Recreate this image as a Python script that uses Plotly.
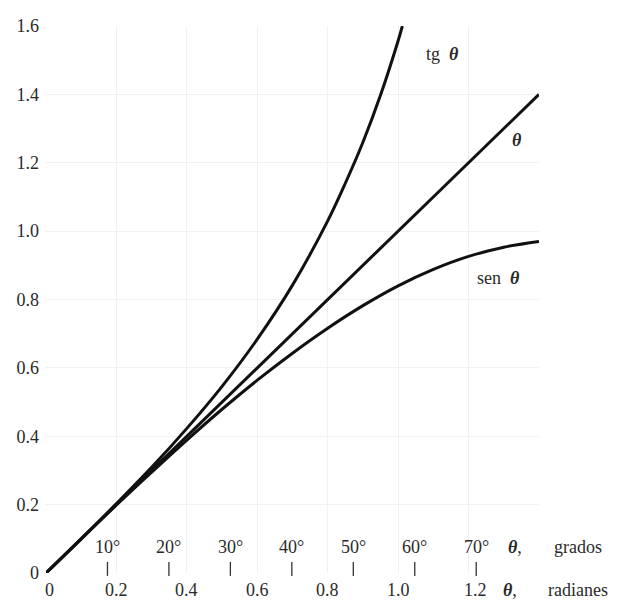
import math
import plotly.graph_objects as go

# ---- data ----
theta_line_x = [0.0, 1.4]
theta_line_y = [0.0, 1.4]

sen_x = [0.0, 0.1, 0.2, 0.3, 0.4, 0.5, 0.6, 0.7, 0.8, 0.9, 1.0, 1.1, 1.2, 1.3, 1.4]
sen_y = [0.0, 0.10, 0.199, 0.295, 0.389, 0.479, 0.564, 0.643, 0.716, 0.782, 0.840, 0.888, 0.926, 0.953, 0.970]

tg_x = [0.0, 0.1, 0.2, 0.3, 0.4, 0.5, 0.6, 0.7, 0.8, 0.85, 0.9, 0.95, 1.0, 1.012]
tg_y = [0.0, 0.100, 0.203, 0.309, 0.423, 0.546, 0.684, 0.842, 1.030, 1.140, 1.260, 1.398, 1.557, 1.600]

y_ticks = [0, 0.2, 0.4, 0.6, 0.8, 1.0, 1.2, 1.4, 1.6]
y_tick_text = ["0", "0.2", "0.4", "0.6", "0.8", "1.0", "1.2", "1.4", "1.6"]

rad_ticks = [0, 0.2, 0.4, 0.6, 0.8, 1.0, 1.2]
rad_tick_text = ["0", "0.2", "0.4", "0.6", "0.8", "1.0", "1.2"]

deg_ticks = [10, 20, 30, 40, 50, 60, 70]
deg_tick_text = ["10°", "20°", "30°", "40°", "50°", "60°", "70°"]

grid_x = [0.2, 0.4, 0.6, 0.8, 1.0, 1.2, 1.4]

X_MAX, Y_MAX = 1.4, 1.6

FONT = "Liberation Serif"
TXT = "#2a2a2a"
TH = "<b><i>θ</i></b>"


def px(x):
    return x / X_MAX


def py(y):
    return y / Y_MAX


fig = go.Figure()
line_style = dict(color="#111111", width=3)
fig.add_trace(go.Scatter(x=tg_x, y=tg_y, mode="lines", line=dict(shape="spline", **line_style),
                         cliponaxis=False, showlegend=False, hoverinfo="skip"))
fig.add_trace(go.Scatter(x=theta_line_x, y=theta_line_y, mode="lines", line=line_style,
                         cliponaxis=False, showlegend=False, hoverinfo="skip"))
fig.add_trace(go.Scatter(x=sen_x, y=sen_y, mode="lines", line=dict(shape="spline", **line_style),
                         cliponaxis=False, showlegend=False, hoverinfo="skip"))

# degree tick marks
deg_rad = [math.radians(d) for d in deg_ticks]
fig.add_trace(go.Scatter(x=deg_rad, y=[0.012] * len(deg_rad), mode="markers",
                         marker=dict(symbol="line-ns", size=10, line=dict(color="#333333", width=1.3)),
                         cliponaxis=False, showlegend=False, hoverinfo="skip"))

fnt = dict(family=FONT, size=18, color=TXT)
rad_nudge = {"0": 0.011, "1.2": 0.02}
annotations = []
for xv, t in zip(deg_rad, deg_tick_text):
    annotations.append(dict(x=px(xv), y=py(0.075), text=t))
for xv, t in zip(rad_ticks, rad_tick_text):
    annotations.append(dict(x=px(xv + rad_nudge.get(t, 0)), y=py(-0.05), text=t))
annotations += [
    dict(x=px(1.332), y=py(0.075), text=TH + ","),
    dict(x=px(1.51), y=py(0.075), text="grados"),
    dict(x=px(1.318), y=py(-0.05), text=TH + ","),
    dict(x=px(1.51), y=py(-0.05), text="radianes"),
    dict(x=px(1.125), y=py(1.517), text="tg  " + TH),
    dict(x=px(1.338), y=py(1.267), text=TH),
    dict(x=px(1.284), y=py(0.862), text="sen  " + TH),
]
for a in annotations:
    a.update(xref="paper", yref="paper", showarrow=False, font=fnt,
             xanchor="center", yanchor="middle")

fig.update_layout(
    width=626, height=603,
    margin=dict(l=38, r=95, t=8, b=38),
    paper_bgcolor="white", plot_bgcolor="white",
    annotations=annotations,
    xaxis=dict(range=[0, X_MAX], tickvals=grid_x, showticklabels=False, ticks="",
               showgrid=True, gridcolor="#f1f1f1", gridwidth=1, zeroline=False, showline=False),
    yaxis=dict(range=[0, Y_MAX], tickvals=y_ticks, ticktext=y_tick_text, ticks="",
               ticklabelstandoff=6, tickfont=fnt, ticklabeloverflow="allow",
               showgrid=True, gridcolor="#f1f1f1", gridwidth=1, zeroline=False, showline=False),
)

fig.write_html("out.html")
